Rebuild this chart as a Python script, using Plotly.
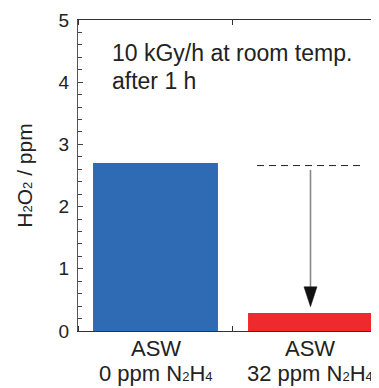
import plotly.graph_objects as go

# ---- data ----
SUB = "<span style='font-size:13px'>{}</span>"
category_names = ["ASW", "ASW"]
category_subs = ["0 ppm N" + SUB.format(2) + "H" + SUB.format(4),
                 "32 ppm N" + SUB.format(2) + "H" + SUB.format(4)]
h2o2_ppm = [2.70, 0.29]
bar_colors = ["#2e6bb4", "#ee2a2e"]
initial_level = 2.66      # dashed reference level above second bar
arrow_tip_level = 0.39    # arrow tip value
y_ticks = [0, 1, 2, 3, 4, 5]
note_lines = ["10 kGy/h at room temp.", "after 1 h"]
y_title = "H" + SUB.format(2) + "O" + SUB.format(2) + " / ppm"

pos = list(range(len(category_names)))
FONT = "Liberation Sans, Arial, sans-serif"

fig = go.Figure()
fig.add_trace(go.Bar(x=pos, y=h2o2_ppm, width=0.806, marker=dict(color=bar_colors, line=dict(width=0)),
                     showlegend=False, hoverinfo="skip"))

# dashed level line over the second category
c = pos[1]
fig.add_trace(go.Scatter(x=[c - 0.345, c + 0.33], y=[initial_level, initial_level], mode="lines",
                         line=dict(color="#222", width=1, dash="7px,5px"), showlegend=False, hoverinfo="skip"))
# arrow shaft
head_h = 0.32
fig.add_trace(go.Scatter(x=[c, c], y=[initial_level - 0.07, arrow_tip_level + head_h - 0.02], mode="lines",
                         line=dict(color="#888", width=1.6), showlegend=False, hoverinfo="skip"))
# arrow head
hw = 0.042
fig.add_trace(go.Scatter(x=[c - hw, c + hw, c, c - hw],
                         y=[arrow_tip_level + head_h, arrow_tip_level + head_h, arrow_tip_level, arrow_tip_level + head_h],
                         mode="lines", fill="toself", fillcolor="#111", line=dict(color="#111", width=0.5),
                         showlegend=False, hoverinfo="skip"))

for txt, yv in zip(note_lines, [4.47, 4.02]):
    fig.add_annotation(x=-0.294, y=yv, xref="x", yref="y", text=txt, showarrow=False,
                       xanchor="left", yanchor="middle", font=dict(family=FONT, size=23, color="#222"))

# category labels (two lines each)
for p, name, sub in zip(pos, category_names, category_subs):
    fig.add_annotation(x=p, y=0, xref="x", yref="y", text=name, showarrow=False, xanchor="center",
                       yanchor="top", yshift=-3, font=dict(family=FONT, size=22, color="#222"))
    fig.add_annotation(x=p, y=0, xref="x", yref="y", text=sub, showarrow=False, xanchor="center",
                       yanchor="top", yshift=-28, font=dict(family=FONT, size=22, color="#222"))

# page body has an 8px default margin; size the figure so the plot lands where the reference has it
fig.update_layout(
    width=371, height=380,
    margin=dict(l=70, r=0, t=12, b=57),
    paper_bgcolor="white", plot_bgcolor="white",
    font=dict(family=FONT, color="#222"),
    xaxis=dict(range=[-0.5, 1.442], tickvals=pos, ticktext=["", ""], ticks="", automargin=False,
               showline=True, linecolor="#333", linewidth=1.2, mirror="ticks", showgrid=False, zeroline=False,
               minor=dict(tick0=-0.5, dtick=1, ticks="inside", ticklen=5, tickcolor="#333", showgrid=False)),
    yaxis=dict(range=[0, 5], tickvals=y_ticks, ticks="inside", ticklen=5, tickcolor="#444", automargin=False,
               tickfont=dict(size=19, color="#222"), ticklabelstandoff=4,
               showline=True, linecolor="#555", linewidth=1.2, showgrid=False, zeroline=False,
               minor=dict(dtick=0.2, ticks="inside", ticklen=4, tickcolor="#444", showgrid=False),
               title=dict(text=y_title, font=dict(size=21, color="#222"), standoff=20)),
)

fig.write_html("out.html")
